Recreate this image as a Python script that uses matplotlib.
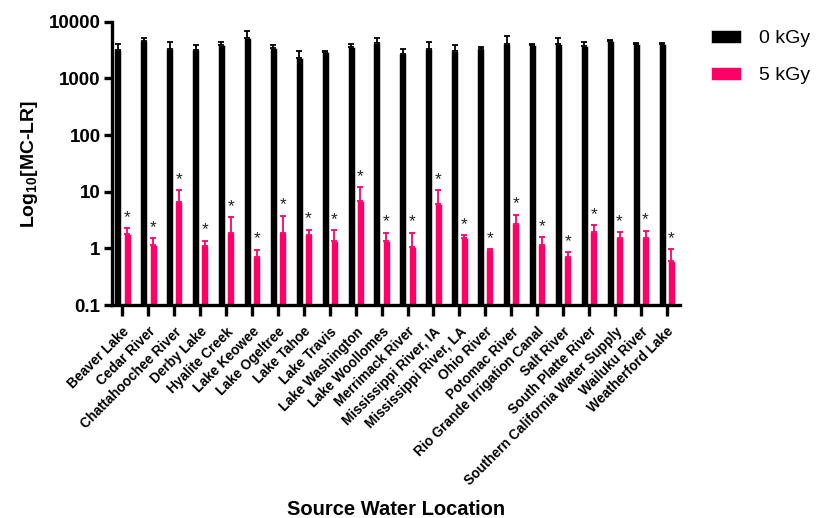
import numpy as np
import matplotlib
matplotlib.use("Agg")
import matplotlib.pyplot as plt
from matplotlib.ticker import FixedLocator, FuncFormatter, NullLocator

plt.rcParams['font.family'] = ['Liberation Sans', 'DejaVu Sans']
plt.rcParams['mathtext.default'] = 'regular'

locations = ["Beaver Lake", "Cedar River", "Chattahoochee River", "Derby Lake",
             "Hyalite Creek", "Lake Keowee", "Lake Ogeltree", "Lake Tahoe",
             "Lake Travis", "Lake Washington", "Lake Woollomes", "Merrimack River",
             "Mississippi River, IA", "Mississippi River, LA", "Ohio River",
             "Potomac River", "Rio Grande Irrigation Canal", "Salt River",
             "South Platte River", "Southern California Water Supply",
             "Wailuku River", "Weatherford Lake"]

# 0 kGy means and upper error (mean + SD)
dose0 = [3200, 4500, 3300, 3200, 3820, 5150, 3430, 2290, 2920, 3620, 4260, 2690,
         3340, 3080, 3250, 4090, 3820, 4090, 3720, 4620, 3980, 3980]
dose0_top = [4040, 5150, 4380, 3820, 4320, 6930, 3930, 2990, 3080, 4040, 5150, 3300,
             4320, 3870, 3580, 5510, 4090, 5150, 4320, 4810, 4200, 4200]

# 5 kGy means and upper error
dose5 = [1.77, 1.13, 6.5, 1.1, 1.84, 0.70, 1.87, 1.70, 1.36, 6.93, 1.36, 1.07,
         6.05, 1.5, 0.92, 2.69, 1.15, 0.71, 1.94, 1.54, 1.54, 0.59]
dose5_top = [2.28, 1.5, 10.6, 1.36, 3.57, 0.94, 3.77, 2.13, 2.08, 11.9, 1.87, 1.87,
             10.6, 1.7, 0.97, 3.93, 1.56, 0.86, 2.55, 1.92, 2.05, 0.97]

yticks = [0.1, 1, 10, 100, 1000, 10000]

black = "#000000"
pink = "#ff0066"

fig = plt.figure(figsize=(8.16, 5.18), dpi=100)
ax = fig.add_axes([0.137, 0.411, 0.696, 0.547])

x = np.arange(len(locations))
w = 0.27
off = 0.18
d0 = np.array(dose0)
d5 = np.array(dose5)
err0 = np.array(dose0_top) - d0
err5 = np.array(dose5_top) - d5

ax.bar(x - off, d0, width=w, color=black, edgecolor="white", linewidth=0.4,
       label="0 kGy", zorder=2)
ax.bar(x + off, d5, width=w, color=pink, edgecolor="white", linewidth=0.4,
       label="5 kGy", zorder=2)
ax.errorbar(x - off, d0, yerr=[np.zeros_like(err0), err0], fmt="none",
            ecolor=black, elinewidth=1.3, capsize=2, capthick=1.3, zorder=3)
ax.errorbar(x + off, d5, yerr=[np.zeros_like(err5), err5], fmt="none",
            ecolor=pink, elinewidth=1.3, capsize=2, capthick=1.3, zorder=3)

for xi, top in zip(x + off, dose5_top):
    ax.annotate("*", xy=(xi, top), xytext=(0, 2.5), textcoords="offset points",
                ha="center", va="bottom", fontsize=12.5, color="#222222")

ax.set_yscale("log")
ax.set_ylim(0.1, 10000)
ax.set_xlim(-0.41, len(locations) - 0.5)
ax.yaxis.set_major_locator(FixedLocator(yticks))
ax.yaxis.set_minor_locator(NullLocator())
ax.yaxis.set_major_formatter(FuncFormatter(lambda v, p: f"{v:g}"))

ax.set_xticks(x)
ax.set_xticklabels(locations, rotation=45, ha="right", rotation_mode="anchor",
                   fontsize=9.8, fontweight="bold")
for lab in ax.get_yticklabels():
    lab.set_fontweight("bold")
    lab.set_fontsize(13.5)

for side in ["top", "right"]:
    ax.spines[side].set_visible(False)
for side in ["left", "bottom"]:
    ax.spines[side].set_linewidth(2.4)
ax.tick_params(axis="y", direction="out", length=6, width=2.4, pad=2)
ax.tick_params(axis="x", direction="out", length=8, width=2.4, pad=6)

ax.set_ylabel("Log$_{10}$[MC-LR]", fontsize=14, fontweight="bold", labelpad=6)
fig.text(0.485, 0.016, "Source Water Location", ha="center", va="center",
         fontsize=14.5, fontweight="bold")

ax.legend(loc="upper left", bbox_to_anchor=(1.042, 1.0), frameon=False,
          fontsize=14, handlelength=1.55, handleheight=0.7, handletextpad=0.9,
          labelspacing=1.0, borderaxespad=0)

fig.savefig("out.png", dpi=100)
